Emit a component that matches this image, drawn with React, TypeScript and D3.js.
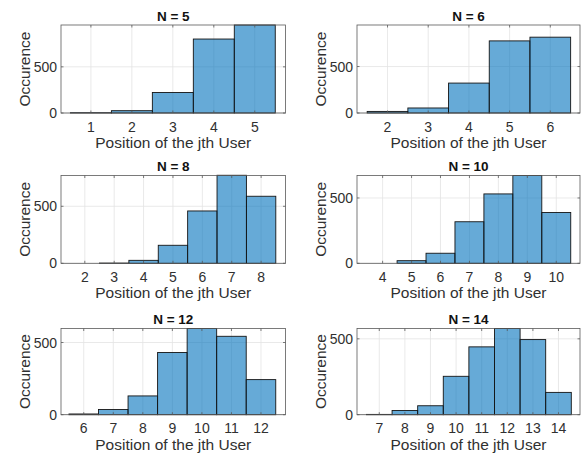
import React from "react";
import * as d3 from "d3";

// ---- data ----
const titles = ["N = 5", "N = 6", "N = 8", "N = 10", "N = 12", "N = 14"];
const pos5 = [1, 2, 3, 4, 5];
const cnt5 = [3, 25, 222, 801, 953];
const pos6 = [2, 3, 4, 5, 6];
const cnt6 = [17, 54, 322, 776, 816];
const pos8 = [2, 3, 4, 5, 6, 7, 8];
const cnt8 = [0, 2, 26, 158, 459, 772, 588];
const pos10 = [4, 5, 6, 7, 8, 9, 10];
const cnt10 = [0, 20, 77, 318, 531, 672, 389];
const pos12 = [6, 7, 8, 9, 10, 11, 12];
const cnt12 = [5, 36, 130, 431, 597, 543, 243];
const pos14 = [7, 8, 9, 10, 11, 12, 13, 14];
const cnt14 = [2, 28, 59, 253, 447, 568, 495, 147];
const yTicks = [0, 500];
const xLabel = "Position of the jth User";
const yLabel = "Occurence";

// ---- layout (axis limits and panel boxes) ----
const xLims: [number, number][] = [
  [0.27, 5.75],
  [1.25, 6.73],
  [1.19, 8.83],
  [3.115, 10.82],
  [5.23, 12.83],
  [6.13, 14.84],
];
const yMaxes = [953, 947, 770, 672, 597, 568];
const rows = [
  { top: 25, bottom: 113 },
  { top: 175.5, bottom: 263.3 },
  { top: 328.5, bottom: 414.7 },
];
const cols = [
  { left: 61, right: 285.5 },
  { left: 357, right: 580 },
];

const positions = [pos5, pos6, pos8, pos10, pos12, pos14];
const counts = [cnt5, cnt6, cnt8, cnt10, cnt12, cnt14];

const FONT = "'Liberation Sans', Arial, Helvetica, sans-serif";
const TEXT = "#303030";
const BAR_FILL = "#0072BD";
const GRID = "#e3e3e3";
const AXIS = "#5a5a5a";

function Panel({ i }: { i: number }) {
  const r = rows[Math.floor(i / 2)];
  const c = cols[i % 2];
  const x = d3.scaleLinear().domain(xLims[i]).range([c.left, c.right]);
  const y = d3.scaleLinear().domain([0, yMaxes[i]]).range([r.bottom, r.top]);
  const pos = positions[i];
  const cnt = counts[i];
  const yt = yTicks.filter((t) => t <= yMaxes[i]);
  const tl = 2.5;
  return (
    <g>
      {/* grid */}
      {pos.map((p) => (
        <line key={"gx" + p} x1={x(p)} x2={x(p)} y1={r.top} y2={r.bottom} stroke={GRID} strokeWidth={0.8} />
      ))}
      {yt.map((t) => (
        <line key={"gy" + t} x1={c.left} x2={c.right} y1={y(t)} y2={y(t)} stroke={GRID} strokeWidth={0.8} />
      ))}
      {/* bars */}
      {pos.map((p, k) =>
        cnt[k] > 0 ? (
          <rect
            key={"b" + p}
            x={x(p - 0.5)}
            y={y(cnt[k])}
            width={x(p + 0.5) - x(p - 0.5)}
            height={y(0) - y(cnt[k])}
            fill={BAR_FILL}
            fillOpacity={0.6}
            stroke="#141414"
            strokeWidth={0.9}
          />
        ) : null
      )}
      {/* box */}
      <rect x={c.left} y={r.top} width={c.right - c.left} height={r.bottom - r.top} fill="none" stroke={AXIS} strokeWidth={0.8} />
      {/* tick marks */}
      {pos.map((p) => (
        <g key={"t" + p}>
          <line x1={x(p)} x2={x(p)} y1={r.bottom} y2={r.bottom - tl} stroke={AXIS} strokeWidth={0.8} />
          <line x1={x(p)} x2={x(p)} y1={r.top} y2={r.top + tl} stroke={AXIS} strokeWidth={0.8} />
        </g>
      ))}
      {yt.map((t) => (
        <g key={"ty" + t}>
          <line x1={c.left} x2={c.left + tl} y1={y(t)} y2={y(t)} stroke={AXIS} strokeWidth={0.8} />
          <line x1={c.right} x2={c.right - tl} y1={y(t)} y2={y(t)} stroke={AXIS} strokeWidth={0.8} />
        </g>
      ))}
      {/* tick labels */}
      {pos.map((p) => (
        <text key={"lx" + p} x={x(p)} y={r.bottom + 18.5} textAnchor="middle" fontSize={14} fill={TEXT} fontFamily={FONT}>
          {p}
        </text>
      ))}
      {yt.map((t) => (
        <text key={"ly" + t} x={c.left - 4} y={y(t) + 5} textAnchor="end" fontSize={14} fill={TEXT} fontFamily={FONT}>
          {t}
        </text>
      ))}
      {/* title */}
      <text x={(c.left + c.right) / 2} y={r.top - 4.5} textAnchor="middle" fontSize={13.5} fontWeight="bold" fill="#111" fontFamily={FONT}>
        {titles[i]}
      </text>
      {/* axis labels */}
      <text x={(c.left + c.right) / 2} y={r.bottom + 35} textAnchor="middle" fontSize={15.5} fill={TEXT} fontFamily={FONT}>
        {xLabel}
      </text>
      <text
        transform={`translate(${c.left - 31},${(r.top + r.bottom) / 2}) rotate(-90)`}
        textAnchor="middle"
        fontSize={15.5}
        fill={TEXT}
        fontFamily={FONT}
      >
        {yLabel}
      </text>
    </g>
  );
}

export default function App() {
  return (
    <svg
      width={585}
      height={454}
      style={{ position: "absolute", left: 0, top: 0, background: "#fff" }}
    >
      <rect x={0} y={0} width={585} height={454} fill="#fff" />
      {titles.map((_, i) => (
        <Panel key={i} i={i} />
      ))}
    </svg>
  );
}
